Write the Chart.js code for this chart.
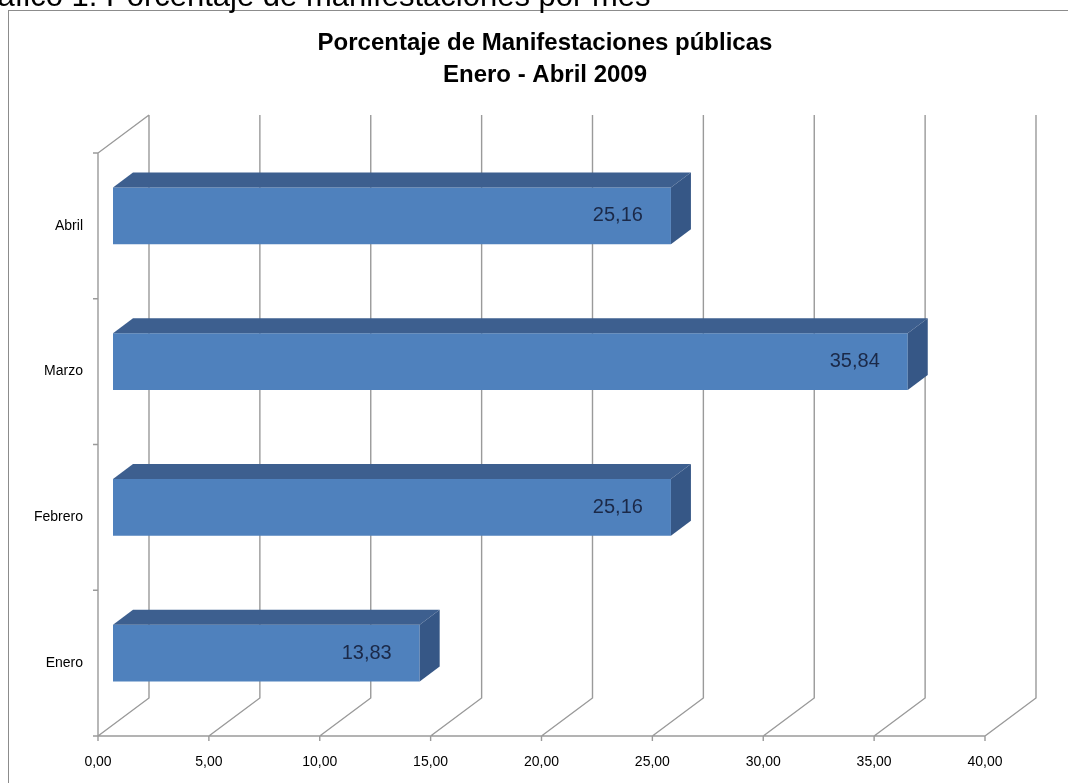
<!DOCTYPE html>
<html lang="es">
<head>
<meta charset="utf-8">
<title>Porcentaje de Manifestaciones públicas</title>
<script src="https://cdn.jsdelivr.net/npm/chart.js@4.4.1/dist/chart.umd.min.js"></script>
<style>
  html, body { margin: 0; padding: 0; background: #fff; overflow: hidden; }
  #marco { position: relative; width: 1068px; height: 783px; overflow: hidden; }
  #lienzo { position: absolute; left: 0; top: 0; width: 1068px; height: 783px; }
  #encabezado {
    position: absolute; left: -37px; top: -20px;
    font: 31px "Liberation Sans", Arial, sans-serif; line-height: 31px;
    white-space: nowrap; color: #000;
  }
</style>
</head>
<body>
<div id="marco">
  <div id="lienzo"><canvas id="grafico"></canvas></div>
  <div id="encabezado">Gráfico 1. Porcentaje de manifestaciones por mes</div>
</div>
<script>
// datos del gráfico
const meses = ['Enero', 'Febrero', 'Marzo', 'Abril'];
const porcentajes = [13.83, 25.16, 35.84, 25.16];
const tituloLineas = ['Porcentaje de Manifestaciones públicas', 'Enero - Abril 2009'];
const ejeMin = 0;
const ejeMax = 40;
const ejePaso = 5;

// efecto 3D (desplazamientos en px)
const FONDO = { dx: 51, dy: -38 };
const DESPL_BARRA = { dx: 15, dy: -10 };
const PROF_BARRA = { dx: 20, dy: -15 };

const fuente = '"Liberation Sans", Arial, sans-serif';
Chart.defaults.font.family = fuente;
Chart.defaults.color = '#000';

function formatoComa(v) {
    return Number(v).toFixed(2).replace('.', ',');
}

function poligono(ctx, puntos) {
    ctx.beginPath();
    ctx.moveTo(puntos[0][0], puntos[0][1]);
    puntos.slice(1).forEach(p => ctx.lineTo(p[0], p[1]));
    ctx.closePath();
    ctx.fill();
}

// paredes, suelo y caras laterales de las barras
const paredes3d = {
    id: 'paredes3d',
    beforeDraw(chart) {
        const ctx = chart.ctx;
        ctx.save();
        ctx.strokeStyle = '#8c8c8c';
        ctx.lineWidth = 1;
        ctx.strokeRect(8.5, 10.5, 1100, 800);
        ctx.restore();
    },
    beforeDatasetsDraw(chart) {
        const { ctx, chartArea: a, scales: { x } } = chart;
        ctx.save();
        ctx.strokeStyle = '#9a9a9a';
        ctx.lineWidth = 1.4;
        ctx.beginPath();
        // pared izquierda
        ctx.moveTo(a.left, a.bottom);
        ctx.lineTo(a.left, a.top);
        ctx.lineTo(a.left + FONDO.dx, a.top + FONDO.dy);
        // rejilla del fondo + diagonales del suelo
        for (let v = ejeMin; v <= ejeMax; v += ejePaso) {
            const px = x.getPixelForValue(v);
            ctx.moveTo(px, a.bottom);
            ctx.lineTo(px + FONDO.dx, a.bottom + FONDO.dy);
            ctx.lineTo(px + FONDO.dx, a.top + FONDO.dy);
            ctx.moveTo(px, a.bottom);
            ctx.lineTo(px, a.bottom + 5);
        }
        // eje horizontal frontal
        ctx.moveTo(a.left, a.bottom);
        ctx.lineTo(x.getPixelForValue(ejeMax), a.bottom);
        // marcas del eje de categorías
        const banda = (a.bottom - a.top) / meses.length;
        for (let i = 0; i <= meses.length; i++) {
            const py = a.top + i * banda;
            ctx.moveTo(a.left - 5, py);
            ctx.lineTo(a.left, py);
        }
        ctx.stroke();
        ctx.restore();

        // las barras van a media profundidad
        ctx.save();
        ctx.translate(DESPL_BARRA.dx, DESPL_BARRA.dy);
    },
    afterDatasetsDraw(chart) {
        const ctx = chart.ctx;
        ctx.restore();

        const meta = chart.getDatasetMeta(0);
        ctx.save();
        meta.data.forEach((barra, i) => {
            const { x: fin, y: cy, base, height } = barra.getProps(['x', 'y', 'base', 'height'], true);
            const x0 = base + DESPL_BARRA.dx;
            const x1 = fin + DESPL_BARRA.dx;
            const arriba = cy - height / 2 + DESPL_BARRA.dy;
            const abajo = cy + height / 2 + DESPL_BARRA.dy;
            const pdx = PROF_BARRA.dx, pdy = PROF_BARRA.dy;

            ctx.fillStyle = '#3d5f8f';
            poligono(ctx, [[x0, arriba], [x1, arriba], [x1 + pdx, arriba + pdy], [x0 + pdx, arriba + pdy]]);
            ctx.fillStyle = '#365786';
            poligono(ctx, [[x1, arriba], [x1 + pdx, arriba + pdy], [x1 + pdx, abajo + pdy], [x1, abajo]]);

            ctx.fillStyle = '#1b2948';
            ctx.font = '20px ' + fuente;
            ctx.textAlign = 'right';
            ctx.textBaseline = 'middle';
            ctx.fillText(formatoComa(porcentajes[i]), x1 - 28, cy + DESPL_BARRA.dy);
        });
        ctx.restore();
    }
};

const ctx = document.getElementById('grafico');
new Chart(ctx, {
    type: 'bar',
    data: {
        labels: meses,
        datasets: [{
            label: 'Porcentaje',
            data: porcentajes,
            backgroundColor: '#4f81bd',
            borderWidth: 0,
            categoryPercentage: 0.39,
            barPercentage: 1
        }]
    },
    options: {
        indexAxis: 'y',
        responsive: true,
        maintainAspectRatio: false,
        animation: false,
        layout: { padding: { left: 22, right: 0, top: 0, bottom: 0 } },
        plugins: {
            legend: { display: false },
            tooltip: { enabled: false },
            title: {
                display: true,
                text: tituloLineas,
                color: '#000',
                font: { size: 24, weight: 'bold', lineHeight: 32 / 24 },
                padding: { top: 27, bottom: 62 }
            }
        },
        scales: {
            x: {
                min: ejeMin,
                max: ejeMax,
                grid: { display: false, drawTicks: false },
                border: { display: false },
                ticks: {
                    stepSize: ejePaso,
                    padding: 18,
                    font: { size: 14 },
                    color: '#000',
                    callback: v => formatoComa(v)
                },
                afterFit(scale) { scale.height = 47; }
            },
            y: {
                reverse: true,
                grid: { display: false, drawTicks: false },
                border: { display: false },
                ticks: { padding: 15, font: { size: 14 }, color: '#000' },
                afterFit(scale) { scale.width = 76; }
            },
            // eje vacío a la derecha: deja sitio para la profundidad 3D
            derecha: {
                type: 'category',
                position: 'right',
                grid: { display: false, drawTicks: false },
                border: { display: false },
                ticks: { display: false },
                afterFit(scale) { scale.width = 83; }
            }
        }
    },
    plugins: [paredes3d]
});
</script>
</body>
</html>
